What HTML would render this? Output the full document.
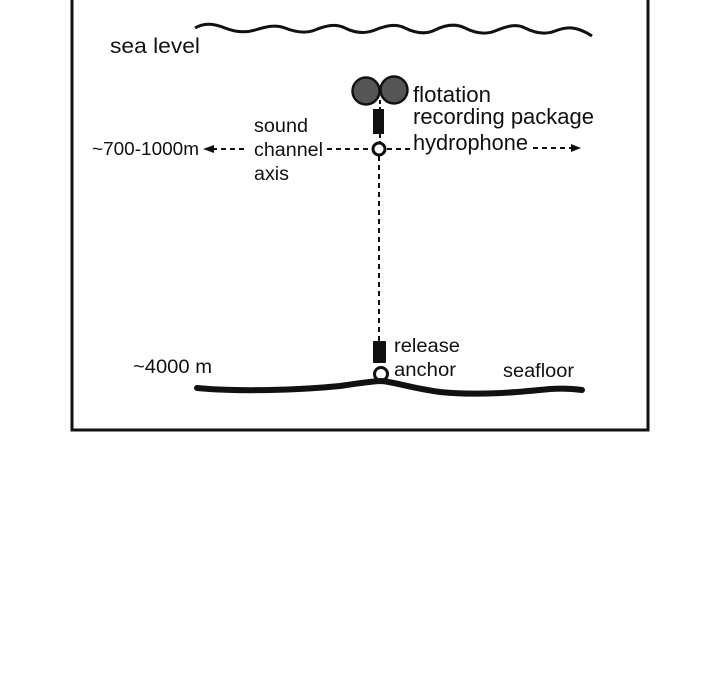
<!DOCTYPE html>
<html><head><meta charset="utf-8"><style>
html,body{margin:0;padding:0;background:#fff;width:720px;height:700px;overflow:hidden}
svg text{font-family:"Liberation Sans",Arial,sans-serif;fill:#111}
</style></head><body>
<svg width="720" height="700" viewBox="0 0 720 700" xmlns="http://www.w3.org/2000/svg">
<rect x="72" y="-10" width="576" height="440" fill="none" stroke="#111" stroke-width="3"/>
<path d="M195,28 C205,22 215,24 225,28 S245,33 255,30 S275,24 285,28 S305,34 315,30 S335,23 345,28 S365,34 375,30 S395,23 405,28 S425,35 435,30 S455,23 465,28 S485,35 495,31 S515,23 525,28 S545,35 555,31 S575,25 592,36" fill="none" stroke="#111" stroke-width="3"/>
<text x="110" y="53" font-size="21" textLength="90" lengthAdjust="spacingAndGlyphs">sea level</text>
<circle cx="366" cy="91" r="13.5" fill="#555" stroke="#111" stroke-width="2.5"/>
<circle cx="394" cy="90" r="13.5" fill="#555" stroke="#111" stroke-width="2.5"/>
<line x1="380" y1="100" x2="380" y2="110" stroke="#111" stroke-width="2" stroke-dasharray="4,3"/>
<rect x="373" y="109" width="11" height="25" fill="#111"/>
<line x1="380" y1="134" x2="380" y2="142" stroke="#111" stroke-width="2" stroke-dasharray="4,3"/>
<line x1="379" y1="156" x2="379" y2="341" stroke="#111" stroke-width="2" stroke-dasharray="5,4"/>
<circle cx="379" cy="149" r="6" fill="#fff" stroke="#111" stroke-width="3"/>
<line x1="212" y1="149" x2="248" y2="149" stroke="#111" stroke-width="2" stroke-dasharray="5,4"/>
<polygon points="203,149 214,145 214,153" fill="#111"/>
<line x1="327" y1="149" x2="372" y2="149" stroke="#111" stroke-width="2" stroke-dasharray="5,4"/>
<line x1="387" y1="149" x2="410" y2="149" stroke="#111" stroke-width="2" stroke-dasharray="5,4"/>
<line x1="533" y1="148" x2="572" y2="148" stroke="#111" stroke-width="2" stroke-dasharray="5,4"/>
<polygon points="581,148 571,144 571,152" fill="#111"/>
<text x="413" y="102" font-size="22" textLength="78" lengthAdjust="spacingAndGlyphs">flotation</text>
<text x="413" y="124" font-size="22" textLength="181" lengthAdjust="spacingAndGlyphs">recording package</text>
<text x="413" y="150" font-size="22" textLength="115" lengthAdjust="spacingAndGlyphs">hydrophone</text>
<text x="254" y="132" font-size="19" textLength="54" lengthAdjust="spacingAndGlyphs">sound</text>
<text x="254" y="156" font-size="19" textLength="69" lengthAdjust="spacingAndGlyphs">channel</text>
<text x="254" y="180" font-size="19" textLength="35" lengthAdjust="spacingAndGlyphs">axis</text>
<text x="92" y="155" font-size="18" textLength="107" lengthAdjust="spacingAndGlyphs">~700-1000m</text>
<rect x="373" y="341" width="13" height="22" rx="1" fill="#111"/>
<circle cx="381" cy="374" r="6.5" fill="#fff" stroke="#111" stroke-width="3"/>
<path d="M197,388 C240,392 300,390 340,386 C360,383 375,381 381,381 C395,382 410,388 440,392 C480,396 520,392 550,389 C565,388 575,389 582,390" fill="none" stroke="#111" stroke-width="6" stroke-linecap="round"/>
<text x="394" y="352" font-size="19" textLength="66" lengthAdjust="spacingAndGlyphs">release</text>
<text x="394" y="376" font-size="19" textLength="62" lengthAdjust="spacingAndGlyphs">anchor</text>
<text x="133" y="373" font-size="19" textLength="79" lengthAdjust="spacingAndGlyphs">~4000 m</text>
<text x="503" y="377" font-size="19" textLength="71" lengthAdjust="spacingAndGlyphs">seafloor</text>
</svg>
</body></html>
